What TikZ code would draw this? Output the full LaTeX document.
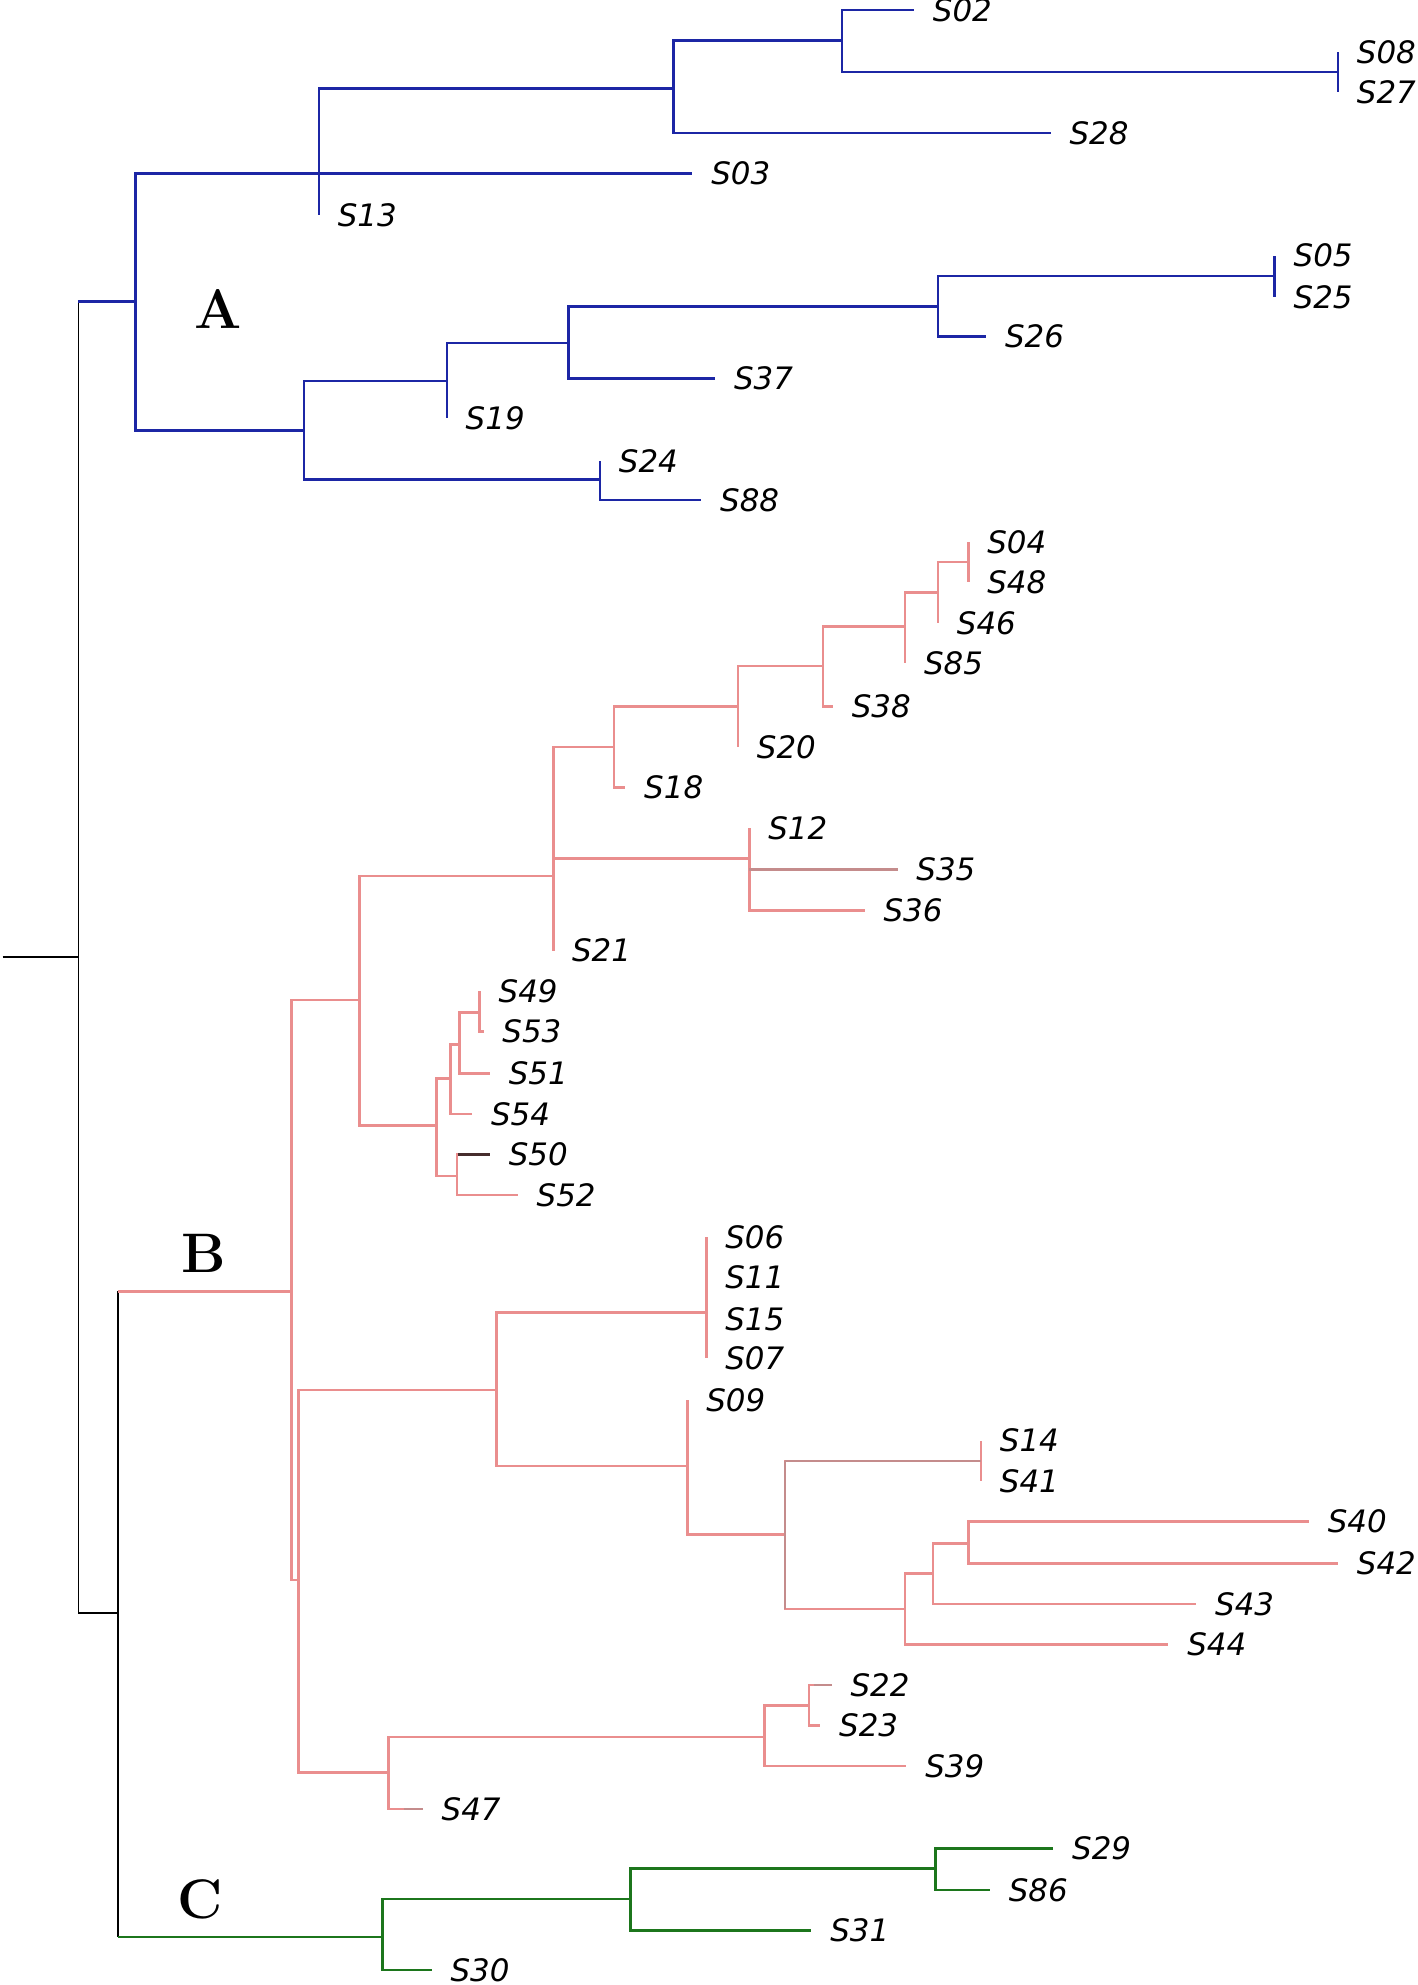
\documentclass[tikz,border=0pt]{standalone}
\usepackage{fontspec}
\newfontfamily\labfont{DejaVu Sans}
\definecolor{cA}{RGB}{28,38,165}
\definecolor{cB}{RGB}{234,142,142}
\definecolor{cBg}{RGB}{196,140,140}
\definecolor{cBd}{RGB}{70,45,45}
\definecolor{cC}{RGB}{28,118,28}
\newcommand{\mkleaf}[4]{\coordinate (#1) at (#2,#3); \node[lab] (#1l) at (#2+14.5,#3) {#4};}
\begin{document}
\begin{tikzpicture}[x=0.5pt,y=-0.5pt,
  lab/.style={anchor=west,inner sep=0pt,font=\labfont\itshape\fontsize{12.2}{12.2}\selectfont,text=black},
  clab/.style={inner sep=0pt,font=\fontsize{22}{22}\selectfont\bfseries,text=black},
  eK/.style={draw=black,line width=0.7pt},
  eA/.style={draw=cA,line width=1.05pt},
  eB/.style={draw=cB,line width=1.05pt},
  eBg/.style={draw=cBg,line width=1.05pt},
  eBd/.style={draw=cBd,line width=1.05pt},
  eC/.style={draw=cC,line width=1.05pt}]
\useasboundingbox (0,0) rectangle (1120,1568);
% backbone
\coordinate (r) at (2,756);
\coordinate (n0) at (62,756);
\coordinate (nA) at (107,238);
\coordinate (nBC) at (93,1274);
\coordinate (nB) at (230,1020);
\coordinate (nC) at (302,1530);
% clade A
\coordinate (a1) at (252,137);
\coordinate (a2) at (532,70);
\coordinate (a3) at (665,32);
\coordinate (a4) at (1057,57);
\coordinate (a5) at (240,340);
\coordinate (a6) at (353,301);
\coordinate (a7) at (449,271);
\coordinate (a8) at (741,242);
\coordinate (a10) at (1007,218);
\coordinate (a9) at (474,379);
\mkleaf{S02}{722}{8}{S02}
\mkleaf{S08}{1057}{41}{S08}
\mkleaf{S27}{1057}{73}{S27}
\mkleaf{S28}{830}{105}{S28}
\mkleaf{S03}{547}{137}{S03}
\mkleaf{S13}{252}{170}{S13}
\mkleaf{S05}{1007}{202}{S05}
\mkleaf{S25}{1007}{235}{S25}
\mkleaf{S26}{779}{266}{S26}
\mkleaf{S37}{565}{299}{S37}
\mkleaf{S19}{353}{330}{S19}
\mkleaf{S24}{474}{364}{S24}
\mkleaf{S88}{554}{395}{S88}
% clade B
\coordinate (b1) at (284,790);
\coordinate (b2) at (236,1248);
\coordinate (b3) at (392,1098);
\coordinate (b4) at (307,1400);
\coordinate (b5) at (437,692);
\coordinate (b6) at (345,889);
\coordinate (b7) at (485,590);
\coordinate (b8) at (592,678);
\coordinate (b9) at (583,558);
\coordinate (b10) at (650,526);
\coordinate (b11) at (715,495);
\coordinate (b12) at (741,468);
\coordinate (b13) at (765,444);
\coordinate (b14) at (356,852);
\coordinate (b15) at (361,929);
\coordinate (b16) at (363,825);
\coordinate (b17) at (379,800);
\coordinate (b18) at (558,1037);
\coordinate (b19) at (543,1158);
\coordinate (b20) at (620,1212);
\coordinate (b21) at (775,1154);
\coordinate (b22) at (715,1271);
\coordinate (b23) at (737,1243);
\coordinate (b24) at (765,1219);
\coordinate (b25) at (604,1372);
\coordinate (b26) at (639,1347);
\mkleaf{S04}{765}{428}{S04}
\mkleaf{S48}{765}{460}{S48}
\mkleaf{S46}{741}{492}{S46}
\mkleaf{S85}{715}{524}{S85}
\mkleaf{S38}{658}{558}{S38}
\mkleaf{S20}{583}{590}{S20}
\mkleaf{S18}{494}{622}{S18}
\mkleaf{S12}{592}{654}{S12}
\mkleaf{S35}{709}{687}{S35}
\mkleaf{S36}{683}{719}{S36}
\mkleaf{S21}{437}{751}{S21}
\mkleaf{S49}{379}{783}{S49}
\mkleaf{S53}{382}{815}{S53}
\mkleaf{S51}{387}{848}{S51}
\mkleaf{S54}{373}{880}{S54}
\mkleaf{S50}{387}{912}{S50}
\mkleaf{S52}{409}{944}{S52}
\mkleaf{S06}{558}{977}{S06}
\mkleaf{S11}{558}{1009}{S11}
\mkleaf{S15}{558}{1042}{S15}
\mkleaf{S07}{558}{1073}{S07}
\mkleaf{S09}{543}{1106}{S09}
\mkleaf{S14}{775}{1138}{S14}
\mkleaf{S41}{775}{1170}{S41}
\mkleaf{S40}{1034}{1202}{S40}
\mkleaf{S42}{1057}{1235}{S42}
\mkleaf{S43}{945}{1267}{S43}
\mkleaf{S44}{923}{1299}{S44}
\mkleaf{S22}{657}{1331}{S22}
\mkleaf{S23}{648}{1363}{S23}
\mkleaf{S39}{716}{1395}{S39}
\mkleaf{S47}{334}{1429}{S47}
% clade C
\coordinate (c2) at (498,1500);
\coordinate (c3) at (739,1476);
\mkleaf{S29}{832}{1460}{S29}
\mkleaf{S86}{782}{1493}{S86}
\mkleaf{S31}{641}{1525}{S31}
\mkleaf{S30}{341}{1556}{S30}
% black backbone
\draw[eK] (r) -- (n0);
\draw[eK] (n0 |- nA) -- (n0 |- nBC) -- (nBC);
\draw[eK] (nBC |- nB) -- (nBC |- nC);
\draw[eA] (n0 |- nA) -- (nA);
\draw[eB] (nBC |- nB) -- (nB);
\draw[eC] (nBC |- nC) -- (nC);
% clade A branches
\foreach \p/\c in {nA/a1,nA/a5,a1/a2,a1/S03,a1/S13,a2/a3,a2/S28,a3/S02,a3/a4,a4/S08,a4/S27,
  a5/a6,a5/a9,a6/a7,a6/S19,a7/a8,a7/S37,a8/a10,a8/S26,a10/S05,a10/S25,a9/S24,a9/S88}
  \draw[eA] (\p) |- (\c);
% clade B branches
\foreach \p/\c in {nB/b1,nB/b2,b2/b3,b2/b4,b1/b5,b1/b6,b5/b7,b5/b8,b5/S21,b7/b9,b7/S18,
  b9/b10,b9/S20,b10/b11,b10/S38,b11/b12,b11/S85,b12/b13,b12/S46,b13/S04,b13/S48,
  b8/S12,b8/S35,b8/S36,b6/b14,b6/b15,b14/b16,b14/S54,b16/b17,b16/S51,b17/S49,b17/S53,
  b15/S50,b15/S52,b3/b18,b3/b19,b18/S06,b18/S11,b18/S15,b18/S07,b19/S09,b19/b20,
  b20/b21,b20/b22,b21/S14,b21/S41,b22/b23,b22/S44,b23/b24,b23/S43,b24/S40,b24/S42,
  b4/b25,b4/S47,b25/b26,b25/S39,b26/S22,b26/S23}
  \draw[eB] (\p) |- (\c);
% tinted segments
\draw[eBg] (b8 |- S35) -- (S35);
\draw[eBg] (b20 |- b21) -- (b21);
\draw[eBg] (b20 |- b21) -- (b20 |- b22);
\draw[eBg] ([xshift=6pt]b4 |- S47) -- (S47);
\draw[eBg] ([xshift=2pt]b26 |- S22) -- (S22);
\draw[eBd] ([xshift=0.5pt]b15 |- S50) -- (S50);
% clade C branches
\foreach \p/\c in {nC/c2,nC/S30,c2/c3,c2/S31,c3/S29,c3/S86}
  \draw[eC] (\p) |- (\c);
% clade letters
\node[clab] (labA) at (172,244) {A};
\node[clab] (labB) at (161,990) {B};
\node[clab] (labC) at (158,1500) {C};
\end{tikzpicture}
\end{document}
